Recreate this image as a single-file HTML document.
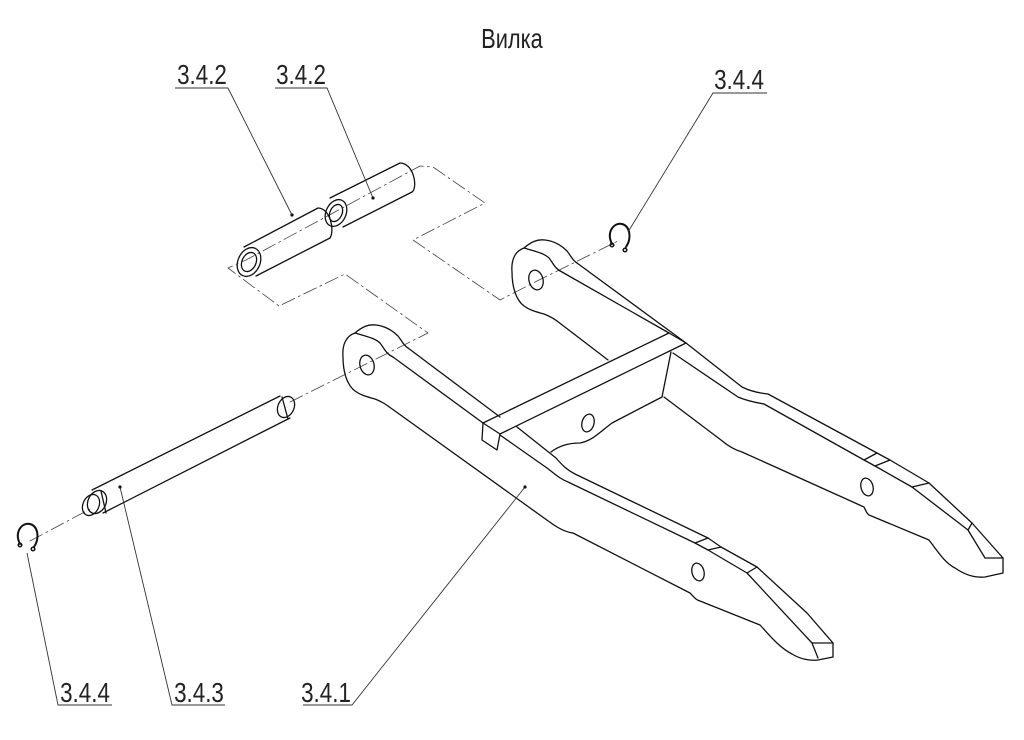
<!DOCTYPE html>
<html><head><meta charset="utf-8"><style>
html,body{margin:0;padding:0;background:#fff;}
svg{display:block}
.t{font-family:"Liberation Sans",sans-serif;font-size:28px;fill:#222;}
</style></head><body>
<svg width="1024" height="740" viewBox="0 0 1024 740" xmlns="http://www.w3.org/2000/svg">
<g fill="none" stroke="#111" stroke-width="1.3" stroke-linejoin="round" stroke-linecap="round">
<!-- dash-dot center lines -->
<g stroke-width="0.8" stroke="#444" stroke-dasharray="14,4,2,4">
<polyline points="30,541 92,508"/>
<polyline points="290,402 428,333 345,274 279,306 228,268 246,260 420,166 433,167 485,203 413,240 500,300 535,282 620,240"/>
</g>
<!-- left arm eye -->
<g id="eye">
<path d="M355,333 C362,327 368,324 376,325 C385,326 392,330 398,336 C402,341 404,346 408,348"/>
<path d="M355,333 C346,336 342,345 343,357 C343,372 347,385 355,391 C362,396 368,397 375,399 C380,401 384,403 388,406"/>
<path d="M355,333 C365,336 375,338 380,343 C384,348 386,354 393,357"/>
<ellipse cx="367" cy="365" rx="7" ry="10" transform="rotate(-15 367 365)"/>
</g>
<use href="#eye" transform="translate(169,-85)"/>
<!-- left arm -->
<path d="M388,406 L551,523 C558,528 565,532 573,533 L690,593 C694,597 696,600 700,601 L760,625 C770,636 780,648 792,654 C800,659 810,661 818,660 L833,657 L833,643"/>
<path d="M408,348 L500,417"/>
<path d="M393,357 L483,423"/>
<path d="M517,427 L556,458 C562,465 567,470 575,474 L708,538 L721,547 L757,567 L807,613 L833,643"/>
<path d="M500,435 L547,468 C555,474 560,479 568,482 L695,543 L708,550 L747,573 L812,643 L818,658"/>
<path d="M695,543 L708,538 M708,550 L721,547 M747,573 L757,567 M812,643 L833,643"/>
<ellipse cx="698" cy="572" rx="6" ry="9" transform="rotate(-15 698 572)"/>
<!-- right arm -->
<path d="M557,321 L608,360"/>
<path d="M664,397 L721,440 C728,446 735,450 742,452 L864,507 C866,511 867,514 869,515 L929,540 C938,552 945,563 955,568 C965,575 975,578 985,577 L1003,573 L1003,558"/>
<path d="M577,263 L686,343 L742,387 C750,391 758,393 768,394 L877,453 L890,460 L929,483 L972,523 L1003,558"/>
<path d="M562,272 L669,333 M673,353 L738,397 C745,400 752,402 764,404 L864,460 L875,466 L912,487 L968,530 L985,558 L1003,558"/>
<path d="M864,460 L877,453 M875,466 L890,460 M912,487 L929,483 M968,530 L972,523"/>
<ellipse cx="867" cy="487" rx="6" ry="9" transform="rotate(-15 867 487)"/>
<!-- crossbar -->
<path d="M483,423 L669,333 L686,343 L500,434 Z"/>
<path d="M483,423 L482,440 L497,450 L500,434"/>
<path d="M671,352 L662,397 M551,452 C560,445 570,443 580,443 C592,441 600,432 612,423 L662,397"/>
<ellipse cx="588" cy="423" rx="6" ry="9" transform="rotate(15 588 423)"/>
<!-- long pin -->
<path d="M92,490 L280,396 M103,513 L290,418"/>
<ellipse cx="97" cy="502" rx="9" ry="12" transform="rotate(25 97 502)"/>
<ellipse cx="91" cy="505" rx="8" ry="11" transform="rotate(25 91 505)"/>
<ellipse cx="286" cy="407" rx="8" ry="11" transform="rotate(25 286 407)"/>
<path d="M101,491 L106,513 M282,397 L288,419"/>
<!-- bushings -->
<path d="M244,247 L318,208 M256,276 L330,238"/>
<ellipse cx="249" cy="262" rx="11" ry="15" transform="rotate(25 249 262)"/>
<ellipse cx="249" cy="262" rx="7" ry="10" transform="rotate(25 249 262)"/>
<path d="M318,208 C330,208 335,230 330,238"/>
<path d="M330,198 L400,163 M343,227 L412,192"/>
<ellipse cx="336" cy="213" rx="10" ry="14" transform="rotate(25 336 213)"/>
<ellipse cx="336" cy="213" rx="6" ry="9" transform="rotate(25 336 213)"/>
<path d="M400,163 C414,163 418,188 412,192"/>
<!-- rings -->
<path d="M20,544 C14,532 22,522 30,524 C38,526 40,538 34,547" stroke-width="2"/>
<circle cx="20" cy="545" r="1.8" stroke-width="1.5"/><circle cx="33" cy="549" r="1.8" stroke-width="1.5"/>
<path d="M612,244 C606,232 614,222 622,224 C630,226 632,238 626,247" stroke-width="2"/>
<circle cx="612" cy="245" r="1.8" stroke-width="1.5"/><circle cx="625" cy="250" r="1.8" stroke-width="1.5"/>
</g>
<!-- leaders -->
<g fill="none" stroke="#333" stroke-width="0.9">
<polyline points="175,88 228,88 292,215"/>
<polyline points="275,88 327,88 373,198"/>
<polyline points="767,93 713,93 628,232"/>
<polyline points="112,705 58,705 27,553"/>
<polyline points="225,705 172,705 120,487"/>
<polyline points="303,705 352,705 525,487"/>
</g>
<g fill="#111">
<circle cx="292" cy="215" r="1.6"/><circle cx="373" cy="198" r="1.6"/>
<circle cx="120" cy="487" r="1.6"/><circle cx="525" cy="487" r="1.6"/>
</g>
<g class="t">
<text x="512" y="48" text-anchor="middle" transform="translate(512 0) scale(0.78 1) translate(-512 0)">Вилка</text>
<text x="202" y="84" text-anchor="middle" transform="translate(202 0) scale(0.8 1) translate(-202 0)">3.4.2</text>
<text x="301" y="84" text-anchor="middle" transform="translate(301 0) scale(0.8 1) translate(-301 0)">3.4.2</text>
<text x="739" y="89" text-anchor="middle" transform="translate(739 0) scale(0.8 1) translate(-739 0)">3.4.4</text>
<text x="85" y="702" text-anchor="middle" transform="translate(85 0) scale(0.8 1) translate(-85 0)">3.4.4</text>
<text x="199" y="702" text-anchor="middle" transform="translate(199 0) scale(0.8 1) translate(-199 0)">3.4.3</text>
<text x="326" y="702" text-anchor="middle" transform="translate(326 0) scale(0.8 1) translate(-326 0)">3.4.1</text>
</g>
</svg>
</body></html>
